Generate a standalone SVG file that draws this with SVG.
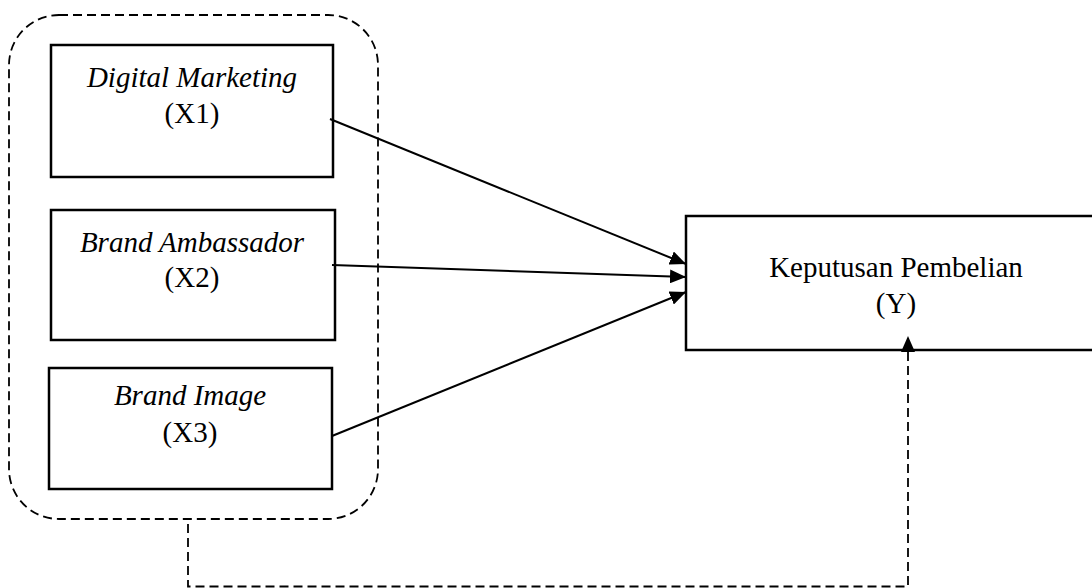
<svg xmlns="http://www.w3.org/2000/svg" width="1092" height="588" viewBox="0 0 1092 588">
<style>
.box{fill:#fff;stroke:#000;stroke-width:2.5}
.dash{fill:none;stroke:#000;stroke-width:1.8;stroke-dasharray:9 5}
.conn{fill:none;stroke:#000;stroke-width:2}
text{font-family:"Liberation Serif","Times New Roman",serif;font-size:29px;fill:#000;text-anchor:middle}
.it{font-style:italic}
</style>
<defs>
<marker id="ah" viewBox="0 0 16 14" refX="16" refY="7" markerWidth="16" markerHeight="14" markerUnits="userSpaceOnUse" orient="auto">
<path d="M0,0 L16,7 L0,14 Z" fill="#000"/>
</marker>
</defs>
<rect id="group-x" class="dash" x="9" y="15" width="369" height="504" rx="50" ry="50"/>
<g id="x1">
<rect class="box" x="51" y="45" width="282" height="132"/>
<text x="192" y="87" class="it">Digital Marketing</text>
<text x="192" y="123">(X1)</text>
</g>
<g id="x2">
<rect class="box" x="51" y="210" width="284" height="130"/>
<text x="192" y="252" class="it">Brand Ambassador</text>
<text x="192" y="287">(X2)</text>
</g>
<g id="x3">
<rect class="box" x="49" y="368" width="283" height="121"/>
<text x="190" y="405" class="it">Brand Image</text>
<text x="190" y="442">(X3)</text>
</g>
<g id="y">
<rect class="box" x="686" y="216" width="420" height="134"/>
<text x="896" y="277">Keputusan Pembelian</text>
<text x="896" y="313">(Y)</text>
</g>
<g id="connectors">
<line class="conn" x1="330" y1="119" x2="686" y2="264" marker-end="url(#ah)"/>
<line class="conn" x1="332" y1="265" x2="686" y2="277" marker-end="url(#ah)"/>
<line class="conn" x1="332" y1="436" x2="686" y2="292" marker-end="url(#ah)"/>
<path class="dash" d="M188,524 L188,586.5 L908,586.5 L908,336" marker-end="url(#ah)"/>
</g>
</svg>
